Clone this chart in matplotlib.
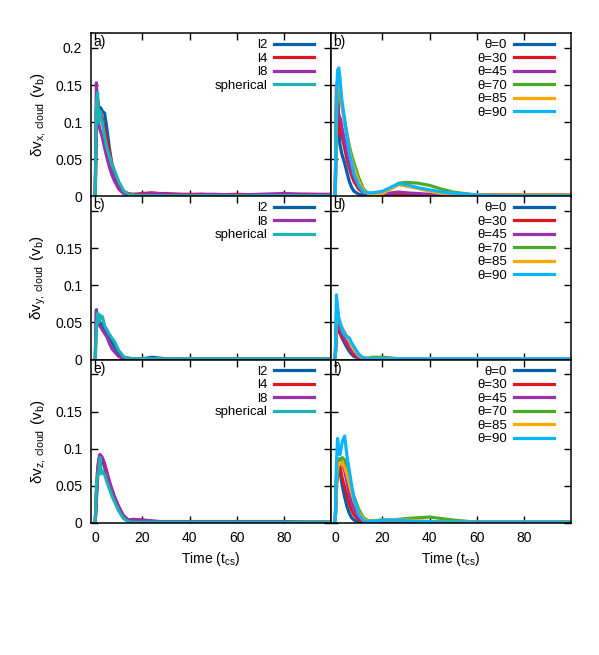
import matplotlib
matplotlib.use('Agg')
import matplotlib.pyplot as plt

plt.rcParams['font.family'] = ['Liberation Sans', 'DejaVu Sans']
plt.rcParams['mathtext.default'] = 'regular'

# shared time samples (t_cs)
T = [0, 0.5, 1, 1.5, 2, 2.5, 3, 4, 5, 6, 7, 8, 10, 12, 14, 16, 20, 24, 27, 30,
     35, 40, 45, 50, 60, 70, 80, 90, 100]

# --- panel a: dv_x, resolution runs
a_l2 = [0, 0.12, 0.13, 0.11, 0.12, 0.118, 0.115, 0.112, 0.09, 0.065, 0.045, 0.032, 0.015, 0.006,
        0.003, 0.002, 0.002, 0.002, 0.002, 0.002, 0.002, 0.002, 0.002, 0.002, 0.002, 0.002, 0.002, 0.002, 0.002]
a_l4 = [0, 0.1, 0.13, 0.11, 0.115, 0.11, 0.105, 0.09, 0.075, 0.06, 0.045, 0.035, 0.018, 0.007,
        0.004, 0.003, 0.004, 0.005, 0.004, 0.004, 0.003, 0.003, 0.003, 0.002, 0.003, 0.002, 0.002, 0.003, 0.002]
a_l8 = [0, 0.153, 0.12, 0.097, 0.09, 0.085, 0.08, 0.065, 0.052, 0.04, 0.03, 0.022, 0.01, 0.004,
        0.002, 0.002, 0.003, 0.004, 0.004, 0.003, 0.003, 0.002, 0.003, 0.003, 0.002, 0.003, 0.004, 0.003, 0.003]
a_sph = [0, 0.12, 0.14, 0.1, 0.115, 0.105, 0.1, 0.08, 0.065, 0.055, 0.044, 0.036, 0.02, 0.008,
         0.003, 0.002, 0.001, 0.001, 0.001, 0.001, 0.001, 0.001, 0.001, 0.001, 0.001, 0.001, 0.001, 0.001, 0.001]

# --- panel b: dv_x, field angles
b_t0 = [0, 0.1, 0.12, 0.09, 0.07, 0.062, 0.055, 0.045, 0.032, 0.02, 0.012, 0.007, 0.003, 0.002,
        0.001, 0.001, 0.001, 0.001, 0.001, 0.001, 0.001, 0.001, 0.001, 0.001, 0.001, 0.001, 0.001, 0.001, 0.001]
b_t30 = [0, 0.15, 0.14, 0.1, 0.083, 0.09, 0.08, 0.065, 0.05, 0.038, 0.028, 0.02, 0.01, 0.005,
         0.003, 0.003, 0.003, 0.004, 0.004, 0.003, 0.003, 0.002, 0.002, 0.002, 0.002, 0.002, 0.002, 0.002, 0.002]
b_t45 = [0, 0.12, 0.13, 0.11, 0.106, 0.1, 0.09, 0.075, 0.06, 0.045, 0.034, 0.025, 0.013, 0.006,
         0.004, 0.003, 0.003, 0.005, 0.006, 0.005, 0.004, 0.003, 0.003, 0.002, 0.002, 0.002, 0.002, 0.002, 0.002]
b_t70 = [0, 0.1, 0.14, 0.15, 0.14, 0.13, 0.12, 0.1, 0.085, 0.068, 0.055, 0.045, 0.025, 0.01,
         0.004, 0.003, 0.005, 0.012, 0.018, 0.019, 0.018, 0.015, 0.01, 0.006, 0.002, 0.001, 0.001, 0.001, 0.001]
b_t85 = [0, 0.12, 0.16, 0.165, 0.15, 0.135, 0.12, 0.1, 0.08, 0.062, 0.048, 0.037, 0.02, 0.008,
         0.004, 0.003, 0.004, 0.011, 0.016, 0.014, 0.011, 0.007, 0.004, 0.003, 0.002, 0.002, 0.002, 0.002, 0.002]
b_t90 = [0, 0.13, 0.17, 0.173, 0.16, 0.14, 0.125, 0.104, 0.08, 0.058, 0.045, 0.03, 0.015, 0.006,
         0.005, 0.005, 0.007, 0.013, 0.0175, 0.016, 0.012, 0.009, 0.006, 0.0045, 0.002, 0.001, 0.001, 0.001, 0.001]

# --- panel c: dv_y, resolution runs (no l4)
c_l2 = [0, 0.067, 0.05, 0.055, 0.05, 0.048, 0.045, 0.04, 0.036, 0.03, 0.024, 0.018, 0.008, 0.003,
        0.002, 0.001, 0.001, 0.003, 0.002, 0.001, 0.001, 0.001, 0.001, 0.001, 0.001, 0.001, 0.001, 0.001, 0.001]
c_l8 = [0, 0.065, 0.05, 0.048, 0.045, 0.043, 0.04, 0.035, 0.03, 0.022, 0.015, 0.011, 0.004, 0.001,
        0.001, 0.001, 0.001, 0.001, 0.001, 0.001, 0.001, 0.001, 0.001, 0.001, 0.001, 0.001, 0.001, 0.001, 0.001]
c_sph = [0, 0.04, 0.062, 0.05, 0.06, 0.055, 0.058, 0.045, 0.04, 0.034, 0.029, 0.025, 0.012, 0.004,
         0.001, 0.001, 0.001, 0.001, 0.001, 0.001, 0.001, 0.001, 0.001, 0.001, 0.001, 0.001, 0.001, 0.001, 0.001]

# --- panel d: dv_y, field angles
d_t0 = [0, 0.04, 0.048, 0.04, 0.036, 0.032, 0.028, 0.022, 0.016, 0.011, 0.007, 0.004, 0.002, 0.001,
        0.001, 0.001, 0.001, 0.001, 0.001, 0.001, 0.001, 0.001, 0.001, 0.001, 0.001, 0.001, 0.001, 0.001, 0.001]
d_t30 = [0, 0.04, 0.045, 0.04, 0.035, 0.033, 0.03, 0.025, 0.02, 0.015, 0.01, 0.006, 0.002, 0.001,
         0.001, 0.001, 0.001, 0.001, 0.001, 0.001, 0.001, 0.001, 0.001, 0.001, 0.001, 0.001, 0.001, 0.001, 0.001]
d_t45 = [0, 0.045, 0.05, 0.045, 0.04, 0.037, 0.034, 0.029, 0.024, 0.018, 0.013, 0.009, 0.003, 0.001,
         0.001, 0.001, 0.001, 0.001, 0.001, 0.001, 0.001, 0.001, 0.001, 0.001, 0.001, 0.001, 0.001, 0.001, 0.001]
d_t70 = [0, 0.05, 0.058, 0.052, 0.048, 0.045, 0.042, 0.036, 0.03, 0.025, 0.02, 0.015, 0.006, 0.002,
         0.002, 0.003, 0.003, 0.002, 0.001, 0.001, 0.001, 0.001, 0.001, 0.001, 0.001, 0.001, 0.001, 0.001, 0.001]
d_t85 = [0, 0.06, 0.065, 0.055, 0.05, 0.045, 0.04, 0.034, 0.03, 0.025, 0.018, 0.013, 0.005, 0.002,
         0.001, 0.001, 0.001, 0.001, 0.001, 0.001, 0.001, 0.001, 0.001, 0.001, 0.001, 0.001, 0.001, 0.001, 0.001]
d_t90 = [0, 0.087, 0.07, 0.056, 0.05, 0.044, 0.04, 0.033, 0.031, 0.029, 0.022, 0.017, 0.007, 0.002,
         0.001, 0.001, 0.001, 0.001, 0.001, 0.001, 0.001, 0.001, 0.001, 0.001, 0.001, 0.001, 0.001, 0.001, 0.001]

# --- panel e: dv_z, resolution runs
e_l2 = [0, 0.03, 0.06, 0.08, 0.09, 0.088, 0.085, 0.075, 0.062, 0.05, 0.04, 0.032, 0.018, 0.008,
        0.003, 0.002, 0.003, 0.001, 0.001, 0.001, 0.001, 0.001, 0.001, 0.001, 0.001, 0.001, 0.001, 0.001, 0.001]
e_l4 = [0, 0.04, 0.07, 0.085, 0.092, 0.09, 0.087, 0.078, 0.066, 0.055, 0.045, 0.036, 0.02, 0.009,
        0.004, 0.004, 0.004, 0.002, 0.002, 0.001, 0.001, 0.001, 0.001, 0.001, 0.001, 0.001, 0.001, 0.001, 0.001]
e_l8 = [0, 0.04, 0.07, 0.085, 0.092, 0.09, 0.088, 0.08, 0.068, 0.056, 0.046, 0.037, 0.022, 0.01,
        0.004, 0.005, 0.004, 0.003, 0.002, 0.002, 0.002, 0.002, 0.002, 0.002, 0.002, 0.002, 0.002, 0.001, 0.001]
e_sph = [0, 0.05, 0.065, 0.07, 0.088, 0.066, 0.07, 0.065, 0.055, 0.046, 0.037, 0.03, 0.016, 0.006,
         0.002, 0.001, 0.001, 0.001, 0.001, 0.001, 0.001, 0.001, 0.001, 0.001, 0.001, 0.001, 0.001, 0.001, 0.001]

# --- panel f: dv_z, field angles
f_t0 = [0, 0.06, 0.083, 0.08, 0.07, 0.06, 0.05, 0.035, 0.022, 0.013, 0.007, 0.004, 0.001, 0.001,
        0.001, 0.001, 0.001, 0.001, 0.001, 0.001, 0.001, 0.001, 0.001, 0.001, 0.001, 0.001, 0.001, 0.001, 0.001]
f_t30 = [0, 0.05, 0.075, 0.08, 0.075, 0.068, 0.06, 0.048, 0.036, 0.026, 0.017, 0.011, 0.004, 0.002,
         0.001, 0.001, 0.002, 0.002, 0.002, 0.002, 0.002, 0.001, 0.001, 0.001, 0.001, 0.001, 0.001, 0.001, 0.001]
f_t45 = [0, 0.05, 0.07, 0.078, 0.082, 0.083, 0.08, 0.07, 0.055, 0.04, 0.028, 0.02, 0.008, 0.003,
         0.001, 0.001, 0.002, 0.002, 0.002, 0.003, 0.002, 0.002, 0.001, 0.001, 0.001, 0.001, 0.001, 0.001, 0.001]
f_t70 = [0, 0.05, 0.07, 0.085, 0.087, 0.086, 0.088, 0.085, 0.075, 0.06, 0.045, 0.035, 0.018, 0.007,
         0.003, 0.003, 0.004, 0.004, 0.005, 0.006, 0.007, 0.008, 0.006, 0.004, 0.001, 0.001, 0.001, 0.001, 0.001]
f_t85 = [0, 0.06, 0.08, 0.078, 0.08, 0.082, 0.08, 0.075, 0.065, 0.052, 0.04, 0.03, 0.014, 0.005,
         0.002, 0.002, 0.004, 0.004, 0.004, 0.004, 0.003, 0.002, 0.001, 0.001, 0.001, 0.001, 0.001, 0.001, 0.001]
f_t90 = [0, 0.08, 0.114, 0.1, 0.092, 0.1, 0.11, 0.117, 0.09, 0.07, 0.05, 0.033, 0.011, 0.003,
         0.002, 0.002, 0.004, 0.004, 0.004, 0.003, 0.002, 0.002, 0.001, 0.001, 0.001, 0.001, 0.001, 0.001, 0.001]

RES_LABELS = ['l2', 'l4', 'l8', 'spherical']
RES_COLORS = ['#0060ad', '#dd181f', '#9b2fae', '#1bb3b3']
ANG_LABELS = ['\u03b8=0', '\u03b8=30', '\u03b8=45', '\u03b8=70', '\u03b8=85', '\u03b8=90']
ANG_COLORS = ['#0060ad', '#dd181f', '#9b2fae', '#4aab2a', '#ffa800', '#0ab4ff']

panels = [
    ('a)', 'x', dict(zip(['l2', 'l4', 'l8', 'spherical'], [a_l2, a_l4, a_l8, a_sph]))),
    ('b)', None, dict(zip(ANG_LABELS, [b_t0, b_t30, b_t45, b_t70, b_t85, b_t90]))),
    ('c)', 'y', dict(zip(['l2', 'l8', 'spherical'], [c_l2, c_l8, c_sph]))),
    ('d)', None, dict(zip(ANG_LABELS, [d_t0, d_t30, d_t45, d_t70, d_t85, d_t90]))),
    ('e)', 'z', dict(zip(['l2', 'l4', 'l8', 'spherical'], [e_l2, e_l4, e_l8, e_sph]))),
    ('f)', None, dict(zip(ANG_LABELS, [f_t0, f_t30, f_t45, f_t70, f_t85, f_t90]))),
]

W, H = 599, 655
fig = plt.figure(figsize=(W / 100, H / 100), dpi=100)

x0 = [90.5, 330.5]
pw = 240.5
row_top = [33, 196, 359.5]
ph = 163.5

for i, (tag, comp, series) in enumerate(panels):
    r, c = divmod(i, 2)
    ax = fig.add_axes([x0[c] / W, 1 - (row_top[r] + ph) / H, pw / W, ph / H])
    for name, vals in series.items():
        if c == 0:
            col = RES_COLORS[RES_LABELS.index(name)]
        else:
            col = ANG_COLORS[ANG_LABELS.index(name)]
        ax.plot(T, vals, color=col, lw=2.3, label=name, solid_joinstyle='round')
    ax.set_xlim(-2, 100)
    ax.set_ylim(0, 0.22)
    ax.set_xticks([0, 20, 40, 60, 80])
    ax.set_yticks([0, 0.05, 0.1, 0.15, 0.2])
    ax.tick_params(direction='in', top=True, right=True, length=5, width=1, labelsize=10, pad=6)
    for s in ax.spines.values():
        s.set_linewidth(1.1)
    if c == 0:
        ylabs = ['0', '0.05', '0.1', '0.15', '0.2' if r == 0 else '']
        ax.set_yticklabels(ylabs)
        ax.set_ylabel(r'$\delta v_{%s,\,cloud}\ (v_b)$' % comp, fontsize=11, labelpad=5)
    else:
        ax.set_yticklabels([])
    if r < 2:
        ax.set_xticklabels([])
    else:
        ax.set_xlabel(r'Time ($t_{cs}$)', fontsize=10, labelpad=3)
    ax.text(0.012, 0.985, tag, transform=ax.transAxes, ha='left', va='top', fontsize=10)
    ax.legend(loc='upper right', bbox_to_anchor=(0.94, 0.98), frameon=False, markerfirst=False,
              fontsize=9.5, handlelength=3.0, handletextpad=0.55, labelspacing=0.1, borderpad=0.2,
              borderaxespad=0.0)

fig.savefig('out.png', dpi=100)
